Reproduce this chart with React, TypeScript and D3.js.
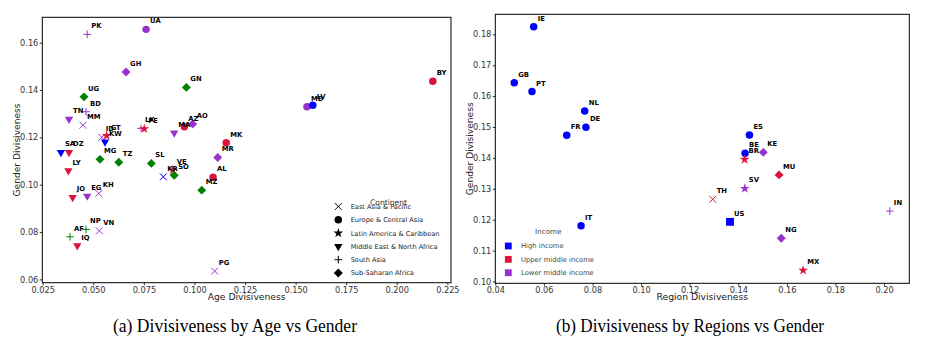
import React, { useEffect, useRef } from 'react'
import * as d3 from 'd3'

// (a) age vs gender divisiveness, one entry per country
const ageCodes = ['PK', 'UA', 'GH', 'GN', 'UG', 'BD', 'TN', 'MM', 'LK', 'PE', 'MA', 'AZ', 'AO', 'MK', 'MR', 'AL', 'MZ', 'PG', 'KR', 'VE', 'SO', 'SL', 'TZ', 'MG', 'SA', 'DZ', 'LY', 'JO', 'EG', 'KH', 'ID', 'GT', 'KW', 'MD', 'LV', 'BY', 'NP', 'AF', 'IQ', 'VN']
const ageDiv = [0.047, 0.0761, 0.0662, 0.096, 0.0454, 0.0464, 0.038, 0.0449, 0.0736, 0.0752, 0.09, 0.095, 0.0991, 0.1157, 0.1115, 0.1092, 0.1036, 0.11, 0.0846, 0.0893, 0.09, 0.0787, 0.0626, 0.0533, 0.034, 0.038, 0.0377, 0.0398, 0.047, 0.0527, 0.0542, 0.0566, 0.0558, 0.1556, 0.1585, 0.2178, 0.0464, 0.0385, 0.0421, 0.053]
const ageGender = [0.1635, 0.1656, 0.1476, 0.1411, 0.1371, 0.1308, 0.1277, 0.1251, 0.1238, 0.1236, 0.1219, 0.1245, 0.1256, 0.1177, 0.1115, 0.1031, 0.0977, 0.0635, 0.1033, 0.1062, 0.104, 0.109, 0.1095, 0.1107, 0.1136, 0.1136, 0.1059, 0.0946, 0.0952, 0.0963, 0.12, 0.1207, 0.1181, 0.1329, 0.1336, 0.1437, 0.0811, 0.078, 0.0742, 0.0805]
const ageContinent = ['SAS', 'ECA', 'SSA', 'SSA', 'SSA', 'SAS', 'MENA', 'EAP', 'SAS', 'LAC', 'MENA', 'ECA', 'SSA', 'ECA', 'SSA', 'ECA', 'SSA', 'EAP', 'EAP', 'LAC', 'SSA', 'SSA', 'SSA', 'SSA', 'MENA', 'MENA', 'MENA', 'MENA', 'MENA', 'EAP', 'EAP', 'LAC', 'MENA', 'ECA', 'ECA', 'ECA', 'SAS', 'SAS', 'MENA', 'EAP']
const ageIncome = ['LM', 'LM', 'LM', 'L', 'L', 'LM', 'LM', 'LM', 'LM', 'UM', 'LM', 'UM', 'LM', 'UM', 'LM', 'UM', 'L', 'LM', 'H', 'UM', 'L', 'L', 'L', 'L', 'H', 'UM', 'UM', 'UM', 'LM', 'LM', 'LM', 'UM', 'H', 'LM', 'H', 'UM', 'L', 'L', 'UM', 'LM']

// (b) region vs gender divisiveness
const regionCodes = ['IE', 'GB', 'PT', 'NL', 'DE', 'FR', 'IT', 'ES', 'BE', 'BR', 'KE', 'MU', 'SV', 'TH', 'US', 'IN', 'NG', 'MX']
const regionDiv = [0.0558, 0.0478, 0.0551, 0.0768, 0.0773, 0.0694, 0.0753, 0.1446, 0.1428, 0.1426, 0.1503, 0.1568, 0.1427, 0.1295, 0.1366, 0.2024, 0.1577, 0.1667]
const regionGender = [0.1825, 0.1643, 0.1615, 0.1552, 0.1499, 0.1473, 0.118, 0.1474, 0.1415, 0.1395, 0.1418, 0.1345, 0.1301, 0.1266, 0.1193, 0.1228, 0.114, 0.1036]
const regionContinent = ['ECA', 'ECA', 'ECA', 'ECA', 'ECA', 'ECA', 'ECA', 'ECA', 'ECA', 'LAC', 'SSA', 'SSA', 'LAC', 'EAP', 'NAM', 'SAS', 'SSA', 'LAC']
const regionIncome = ['H', 'H', 'H', 'H', 'H', 'H', 'H', 'H', 'H', 'UM', 'LM', 'UM', 'LM', 'UM', 'H', 'LM', 'LM', 'UM']

const ageTicks = [0.025, 0.05, 0.075, 0.1, 0.125, 0.15, 0.175, 0.2, 0.225]
const ageGenderTicks = [0.06, 0.08, 0.1, 0.12, 0.14, 0.16]
const regionTicks = [0.04, 0.06, 0.08, 0.1, 0.12, 0.14, 0.16, 0.18, 0.2]
const regionGenderTicks = [0.1, 0.11, 0.12, 0.13, 0.14, 0.15, 0.16, 0.17, 0.18]

const continentKeys = ['EAP', 'ECA', 'LAC', 'MENA', 'SAS', 'SSA']
const continentNames = ['East Asia & Pacific', 'Europe & Central Asia', 'Latin America & Caribbean', 'Middle East & North Africa', 'South Asia', 'Sub-Saharan Africa']
const incomeKeys = ['H', 'UM', 'LM']
const incomeNames = ['High income', 'Upper middle income', 'Lower middle income']

const incomeColor: Record<string, string> = { H: '#0000ff', UM: '#dc143c', LM: '#9932cc', L: '#008000' }
const sans = 'DejaVu Sans, sans-serif'

type G = d3.Selection<SVGGElement, unknown, null, undefined>

// one marker per continent, matplotlib style
const addMarker = (g: G, shape: string, x: number, y: number, color: string) => {
    const t = `translate(${x},${y})`
    if (shape === 'SAS') {
        g.append('path').attr('d', 'M-3.8,0H3.8M0,-3.8V3.8').attr('transform', t).attr('stroke', color).attr('stroke-width', 1).attr('fill', 'none')
    } else if (shape === 'EAP') {
        g.append('path').attr('d', 'M-3.4,-3.4L3.4,3.4M-3.4,3.4L3.4,-3.4').attr('transform', t).attr('stroke', color).attr('stroke-width', 1).attr('fill', 'none')
    } else {
        let sym = d3.symbol(d3.symbolCircle, 44)
        let rot = 0
        if (shape === 'SSA') { sym = d3.symbol(d3.symbolSquare, 40); rot = 45 }
        if (shape === 'MENA') { sym = d3.symbol(d3.symbolTriangle, 30); rot = 180 }
        if (shape === 'LAC') sym = d3.symbol(d3.symbolStar, 30)
        if (shape === 'NAM') sym = d3.symbol(d3.symbolSquare, 62)
        g.append('path').attr('d', sym()).attr('transform', `${t} rotate(${rot})`).attr('fill', color)
    }
}

interface Panel {
    x0: number; x1: number; y0: number; y1: number
    xDomain: [number, number]; yDomain: [number, number]
    xTicks: number[]; yTicks: number[]; xFmt: string
    xLabel: string
    codes: string[]; xs: number[]; ys: number[]; cont: string[]; inc: string[]
}

const drawPanel = (g: G, p: Panel) => {
    const x = d3.scaleLinear().domain(p.xDomain).range([p.x0, p.x1])
    const y = d3.scaleLinear().domain(p.yDomain).range([p.y1, p.y0])

    const xa = g.append('g').attr('transform', `translate(0,${p.y1})`)
        .call(d3.axisBottom(x).tickValues(p.xTicks).tickFormat(d3.format(p.xFmt)).tickSize(2.5).tickPadding(1.5).tickSizeOuter(0))
    const ya = g.append('g').attr('transform', `translate(${p.x0},0)`)
        .call(d3.axisLeft(y).tickValues(p.yTicks).tickFormat(d3.format('.2f')).tickSize(2.5).tickPadding(1.5).tickSizeOuter(0))
    ;[xa, ya].forEach((a) => {
        a.select('.domain').remove()
        a.selectAll('text').attr('font-family', sans).attr('font-size', 8.2).attr('fill', '#333')
        a.selectAll('line').attr('stroke', '#000').attr('stroke-width', 0.8)
    })

    g.append('rect').attr('x', p.x0).attr('y', p.y0).attr('width', p.x1 - p.x0).attr('height', p.y1 - p.y0)
        .attr('fill', 'none').attr('stroke', '#000').attr('stroke-width', 1)

    g.append('text').attr('x', (p.x0 + p.x1) / 2).attr('y', 300).attr('text-anchor', 'middle')
        .attr('font-family', sans).attr('font-size', 9.2).attr('fill', '#222').text(p.xLabel)
    g.append('text').attr('transform', `translate(${p.x0 - 22},${(p.y0 + p.y1) / 2}) rotate(-90)`).attr('text-anchor', 'middle')
        .attr('font-family', sans).attr('font-size', 9.1).attr('fill', '#222').text('Gender Divisiveness')

    const pts = g.append('g')
    p.codes.forEach((c, i) => addMarker(pts, p.cont[i], x(p.xs[i]), y(p.ys[i]), incomeColor[p.inc[i]]))
    const labels = g.append('g')
    p.codes.forEach((c, i) => {
        labels.append('text').attr('x', x(p.xs[i]) + 4).attr('y', y(p.ys[i]) - 6)
            .attr('font-family', sans).attr('font-weight', 'bold').attr('font-size', 6.8).attr('fill', '#000').text(c)
    })
}

const App: React.FC = () => {
    const svgRef = useRef<SVGSVGElement | null>(null)

    useEffect(() => {
        if (!svgRef.current) return
        const svg = d3.select(svgRef.current)
        svg.selectAll('*').remove()
        const root = svg.append('g') as unknown as G

        drawPanel(root.append('g'), {
            x0: 42.3, x1: 451, y0: 17.3, y1: 282.7,
            xDomain: [0.0248, 0.2268], yDomain: [0.0586, 0.1707],
            xTicks: ageTicks, yTicks: ageGenderTicks, xFmt: '.3f',
            xLabel: 'Age Divisiveness',
            codes: ageCodes, xs: ageDiv, ys: ageGender, cont: ageContinent, inc: ageIncome,
        })
        drawPanel(root.append('g'), {
            x0: 495.3, x1: 909.3, y0: 14.3, y1: 283.3,
            xDomain: [0.04, 0.2104], yDomain: [0.0994, 0.1865],
            xTicks: regionTicks, yTicks: regionGenderTicks, xFmt: '.2f',
            xLabel: 'Region Divisiveness',
            codes: regionCodes, xs: regionDiv, ys: regionGender, cont: regionContinent, inc: regionIncome,
        })

        // continent legend (black markers)
        const lg = root.append('g')
        lg.append('text').attr('x', 388.5).attr('y', 204.5).attr('text-anchor', 'middle')
            .attr('font-family', sans).attr('font-size', 7.6).attr('fill', '#333').text('Continent')
        const rowY = d3.scalePoint().domain(continentKeys).range([206.5, 273]) as d3.ScalePoint<string>
        continentKeys.forEach((k, i) => {
            addMarker(lg, k, 338.3, rowY(k)!, '#000')
            lg.append('text').attr('x', 350.7).attr('y', rowY(k)! + 2.4)
                .attr('font-family', sans).attr('font-size', 6.6).attr('fill', '#222').text(continentNames[i])
        })

        // income legend
        const ig = root.append('g')
        ig.append('text').attr('x', 548.3).attr('y', 233.5).attr('text-anchor', 'middle')
            .attr('font-family', sans).attr('font-size', 7.2).attr('fill', '#444').text('Income')
        const incY = d3.scalePoint().domain(incomeKeys).range([246, 272.7]) as d3.ScalePoint<string>
        incomeKeys.forEach((k, i) => {
            ig.append('rect').attr('x', 508.3 - 3.4).attr('y', incY(k)! - 3.4).attr('width', 6.8).attr('height', 6.8).attr('fill', incomeColor[k])
            ig.append('text').attr('x', 521).attr('y', incY(k)! + 2.4)
                .attr('font-family', sans).attr('font-size', 6.8).attr('fill', '#444').text(incomeNames[i])
        })

        // sub-captions
        root.append('text').attr('x', 113).attr('y', 332).attr('font-family', 'Liberation Serif, serif').attr('font-size', 18)
            .attr('textLength', 244).attr('lengthAdjust', 'spacingAndGlyphs').text('(a)  Divisiveness by Age vs Gender')
        root.append('text').attr('x', 556).attr('y', 332).attr('font-family', 'Liberation Serif, serif').attr('font-size', 18)
            .attr('textLength', 268).attr('lengthAdjust', 'spacingAndGlyphs').text('(b)  Divisiveness by Regions vs Gender')
    }, [])

    return (
        <svg ref={svgRef} width={929} height={354} style={{ position: 'absolute', left: 0, top: 0, background: '#fff' }} />
    )
}

export default App
